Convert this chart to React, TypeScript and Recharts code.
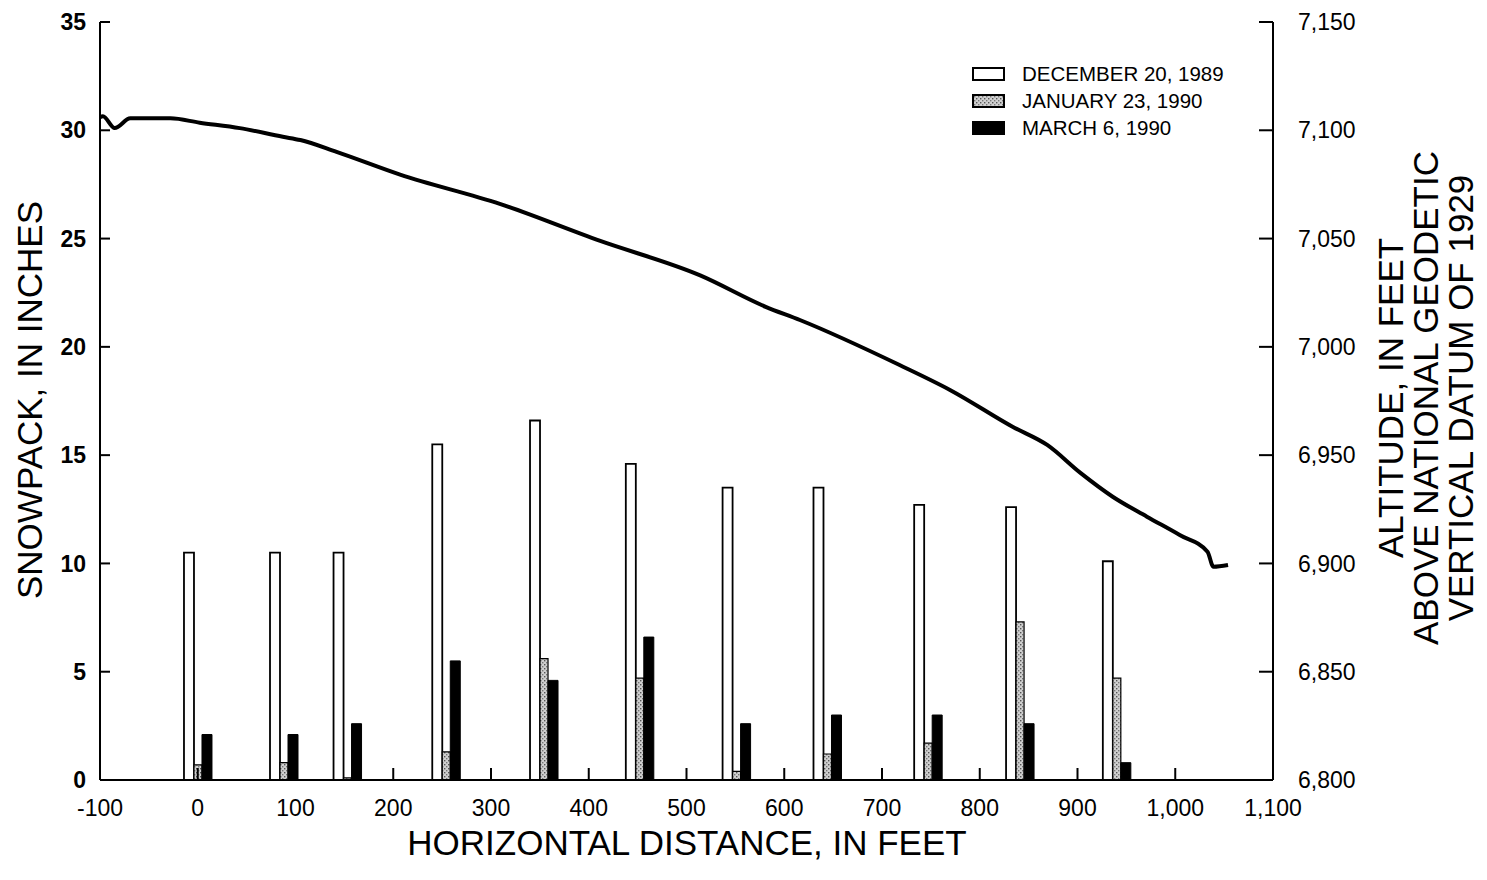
import React from 'react';
import { ComposedChart, Bar, Line, XAxis, YAxis, Legend, Label } from 'recharts';

// ---- data ----
const distances = [0, 88, 153, 254, 354, 452, 551, 644, 747, 841, 940];
const dec20 = [10.5, 10.5, 10.5, 15.5, 16.6, 14.6, 13.5, 13.5, 12.7, 12.6, 10.1];
const jan23 = [0.7, 0.8, 0.1, 1.3, 5.6, 4.7, 0.4, 1.2, 1.7, 7.3, 4.7];
const mar6 = [2.1, 2.1, 2.6, 5.5, 4.6, 6.6, 2.6, 3.0, 3.0, 2.6, 0.8];

const profileDist = [-100, -97, -85, -69, -28, 2, 43, 87, 105, 142, 207, 309, 411, 514, 581, 616, 718, 770, 834, 869, 903, 936, 971, 1005, 1033, 1039, 1054];
const profileAlt = [7106, 7106.5, 7101, 7105.5, 7105.5, 7103.5, 7101, 7097, 7095.5, 7090, 7079.5, 7066, 7049, 7033, 7018.5, 7012.4, 6991.6, 6980, 6963, 6954.7, 6941.8, 6930.8, 6921.6, 6913, 6905.4, 6898.5, 6899.3];

const xTicks = [-100, 0, 100, 200, 300, 400, 500, 600, 700, 800, 900, 1000, 1100];
const snowTicks = [0, 5, 10, 15, 20, 25, 30, 35];
const altTicks = [6800, 6850, 6900, 6950, 7000, 7050, 7100, 7150];

const seriesNames = ['DECEMBER 20, 1989', 'JANUARY 23, 1990', 'MARCH 6, 1990'];
const xTitle = 'HORIZONTAL DISTANCE, IN FEET';
const leftTitle = 'SNOWPACK, IN INCHES';
const rightTitleLines = ['ALTITUDE, IN FEET', 'ABOVE NATIONAL GEODETIC', 'VERTICAL DATUM OF 1929'];

const snowData = distances.map((d, i) => ({ dist: d, dec: dec20[i], jan: jan23[i], mar: mar6[i] }));
const profileData = profileDist.map((d, i) => ({ dist: d, alt: profileAlt[i] }));

const FONT = '"Liberation Sans", Arial, Helvetica, sans-serif';
const fmt = (v: number) => v.toLocaleString('en-US');

const swatchFills = ['#ffffff', 'url(#stipple)', '#000000'];

const LegendBox = () => (
  <div style={{ fontFamily: FONT, fontSize: 20.5, color: '#000' }}>
    {seriesNames.map((name, i) => (
      <div key={name} style={{ display: 'flex', alignItems: 'center', height: 27 }}>
        <svg width={34} height={14} style={{ display: 'block' }}>
          <rect x={1} y={1} width={31} height={12} fill={swatchFills[i]} stroke="#000" strokeWidth={2} />
        </svg>
        <span style={{ marginLeft: 16, lineHeight: '27px' }}>{name}</span>
      </div>
    ))}
  </div>
);

export default function App() {
  return (
    <div style={{ width: 1479, height: 864, background: '#fff' }}>
      <ComposedChart
        width={1479}
        height={864}
        data={snowData}
        margin={{ top: 14, right: 0, bottom: 0, left: 0 }}
        barGap={0}
      >
        <defs>
          <pattern id="stipple" width="4" height="4" patternUnits="userSpaceOnUse">
            <rect width="4" height="4" fill="#cfcfcf" />
            <rect x="0" y="0" width="1.4" height="1.4" fill="#555" />
            <rect x="2" y="2" width="1.4" height="1.4" fill="#777" />
          </pattern>
        </defs>
        <XAxis
          xAxisId="snow"
          dataKey="dist"
          type="number"
          domain={[-100, 1100]}
          ticks={xTicks}
          tickFormatter={fmt}
          height={92}
          axisLine={{ stroke: '#000', strokeWidth: 2 }}
          tickLine={{ stroke: '#000', strokeWidth: 2 }}
          tickSize={-12}
          tickMargin={32}
          tick={{ fill: '#000', fontSize: 23, fontFamily: FONT }}
        >
          <Label
            content={() => (
              <text x={679} y={847} textAnchor="middle" fontFamily={FONT} fontSize={35} fill="#000">
                {xTitle}
              </text>
            )}
          />
        </XAxis>
        <XAxis xAxisId="profile" orientation="top" dataKey="dist" type="number" domain={[-100, 1100]} hide />
        <YAxis
          yAxisId="snow"
          type="number"
          domain={[0, 35]}
          ticks={snowTicks}
          width={92}
          axisLine={{ stroke: '#000', strokeWidth: 2 }}
          tickLine={{ stroke: '#000', strokeWidth: 2 }}
          tickSize={-10}
          tickMargin={24}
          tick={{ fill: '#000', fontSize: 23, fontWeight: 'bold', fontFamily: FONT }}
        >
          <Label
            content={() => (
              <text
                x={34}
                y={392}
                transform="rotate(-90, 34, 392)"
                textAnchor="middle"
                fontFamily={FONT}
                fontSize={35}
                fill="#000"
              >
                {leftTitle}
              </text>
            )}
          />
        </YAxis>
        <YAxis
          yAxisId="alt"
          orientation="right"
          type="number"
          domain={[6800, 7150]}
          ticks={altTicks}
          tickFormatter={fmt}
          width={214}
          axisLine={{ stroke: '#000', strokeWidth: 2 }}
          tickLine={{ stroke: '#000', strokeWidth: 2 }}
          tickSize={-14}
          tickMargin={39}
          tick={{ fill: '#000', fontSize: 23, fontFamily: FONT, textAnchor: 'start' }}
        >
          <Label
            content={() => (
              <text
                x={1395}
                y={390}
                transform="rotate(-90, 1395, 390)"
                textAnchor="middle"
                fontFamily={FONT}
                fontSize={35}
                fill="#000"
              >
                {rightTitleLines.map((line, i) => (
                  <tspan key={line} x={1395} dy={i === 0 ? 0 : 35}>
                    {line}
                  </tspan>
                ))}
              </text>
            )}
          />
        </YAxis>
        <Legend
          layout="horizontal"
          verticalAlign="middle"
          align="center"
          wrapperStyle={{ position: 'absolute', top: 52, left: 964, width: 320, height: 90 }}
          content={() => <LegendBox />}
        />
        <Bar xAxisId="snow" yAxisId="snow" dataKey="dec" name={seriesNames[0]} barSize={10} fill="#fff" stroke="#000" strokeWidth={1.8} isAnimationActive={false} />
        <Bar xAxisId="snow" yAxisId="snow" dataKey="jan" name={seriesNames[1]} barSize={8} fill="url(#stipple)" stroke="#000" strokeWidth={1.2} isAnimationActive={false} />
        <Bar xAxisId="snow" yAxisId="snow" dataKey="mar" name={seriesNames[2]} barSize={10} fill="#000" stroke="#000" strokeWidth={1} isAnimationActive={false} />
        <Line
          xAxisId="profile"
          yAxisId="alt"
          data={profileData}
          dataKey="alt"
          type="monotone"
          stroke="#000"
          strokeWidth={4}
          dot={false}
          activeDot={false}
          isAnimationActive={false}
        />
      </ComposedChart>
    </div>
  );
}
